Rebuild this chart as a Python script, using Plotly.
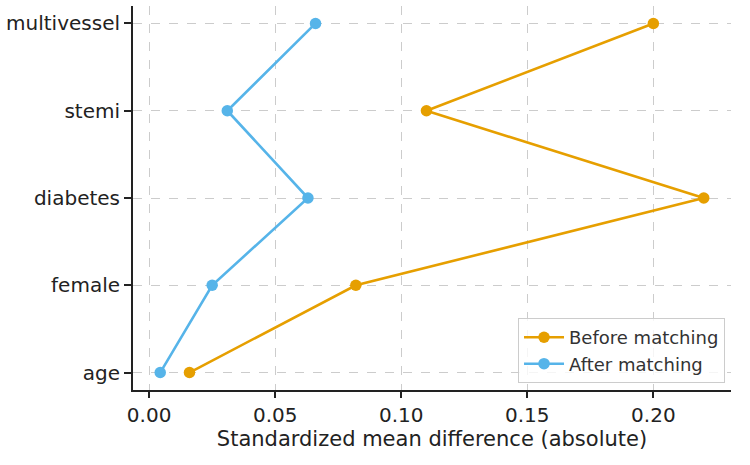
import plotly.graph_objects as go

covariates = ["age", "female", "diabetes", "stemi", "multivessel"]
smd_before = [0.016, 0.082, 0.220, 0.110, 0.200]
smd_after = [0.0044, 0.025, 0.063, 0.031, 0.066]
x_ticks = [0.00, 0.05, 0.10, 0.15, 0.20]
x_tick_labels = ["0.00", "0.05", "0.10", "0.15", "0.20"]

FONT = "DejaVu Sans"
fig = go.Figure()
fig.add_trace(go.Scatter(
    x=smd_before, y=covariates, mode="lines+markers", name="Before matching",
    line=dict(color="#E69F00", width=2.6), marker=dict(size=11.5, color="#E69F00"),
))
fig.add_trace(go.Scatter(
    x=smd_after, y=covariates, mode="lines+markers", name="After matching",
    line=dict(color="#56B4E9", width=2.6), marker=dict(size=11.5, color="#56B4E9"),
))

fig.update_layout(
    width=750, height=465,
    margin=dict(l=133, r=19, t=6, b=75),
    paper_bgcolor="white", plot_bgcolor="white",
    font=dict(family=FONT, size=20, color="#222222"),
    showlegend=True,
    legend=dict(
        x=0.99, y=0.018, xanchor="right", yanchor="bottom",
        bgcolor="rgba(255,255,255,0.8)", bordercolor="#cccccc", borderwidth=1,
        font=dict(family=FONT, size=18, color="#333333"),
        tracegroupgap=0, itemwidth=40,
    ),
    xaxis=dict(
        range=[-0.0064, 0.2308],
        tickmode="array", tickvals=x_ticks, ticktext=x_tick_labels,
        showline=True, linecolor="#222222", linewidth=2,
        ticks="outside", ticklen=6, tickwidth=1.5, tickcolor="#222222",
        showgrid=True, gridcolor="#cccccc", gridwidth=1, griddash="dash",
        zeroline=False, mirror=False,
        title=dict(text="Standardized mean difference (absolute)",
                   font=dict(family=FONT, size=21, color="#222222"), standoff=2),
        tickfont=dict(family=FONT, size=20, color="#222222"),
    ),
    yaxis=dict(
        type="category", categoryorder="array", categoryarray=covariates,
        range=[-0.2, 4.2],
        showline=True, linecolor="#222222", linewidth=2,
        ticks="outside", ticklen=7, tickwidth=1.5, tickcolor="#222222",
        showgrid=True, gridcolor="#cccccc", gridwidth=1, griddash="dash",
        zeroline=False,
        tickfont=dict(family=FONT, size=20, color="#222222"),
    ),
)

fig.write_html("out.html")
